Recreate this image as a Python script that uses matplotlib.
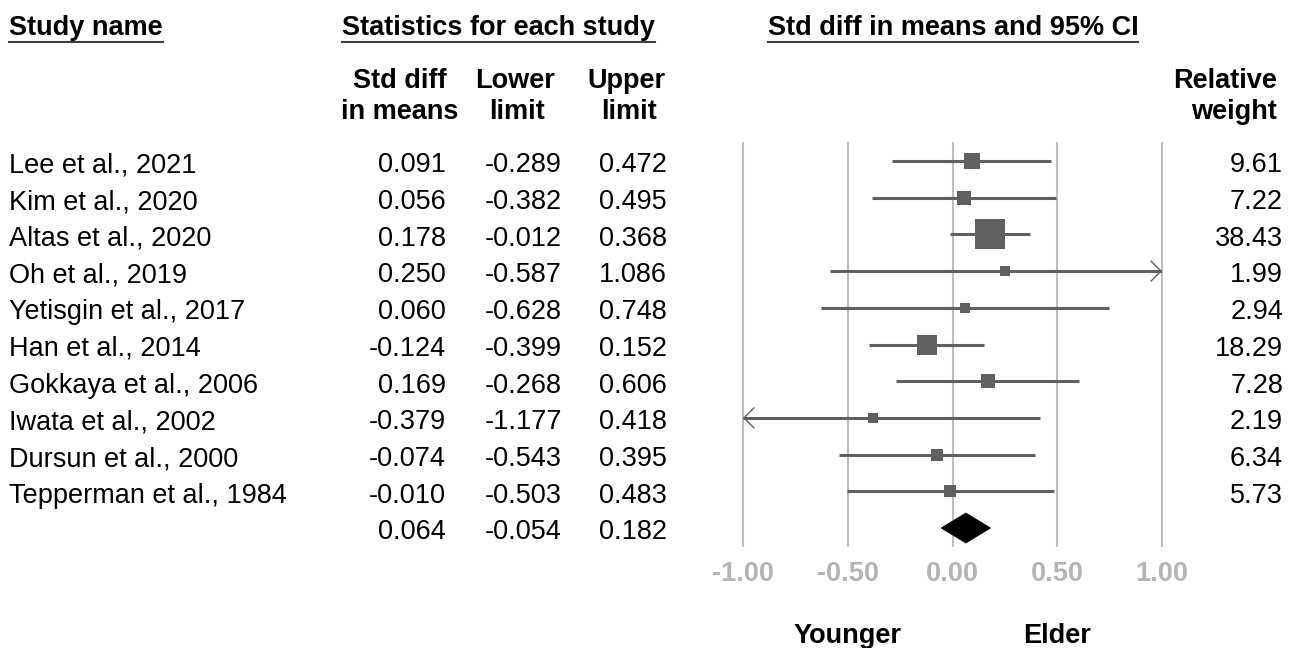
import numpy as np
import matplotlib
matplotlib.use("Agg")
import matplotlib.pyplot as plt
import matplotlib.transforms as mtransforms
from matplotlib.patches import Polygon
from matplotlib.lines import Line2D

plt.rcParams['font.family'] = ['Liberation Sans', 'DejaVu Sans']

studies = ["Lee et al., 2021", "Kim et al., 2020", "Altas et al., 2020", "Oh et al., 2019",
           "Yetisgin et al., 2017", "Han et al., 2014", "Gokkaya et al., 2006",
           "Iwata et al., 2002", "Dursun et al., 2000", "Tepperman et al., 1984"]
std_diff = [0.091, 0.056, 0.178, 0.250, 0.060, -0.124, 0.169, -0.379, -0.074, -0.010]
lower = [-0.289, -0.382, -0.012, -0.587, -0.628, -0.399, -0.268, -1.177, -0.543, -0.503]
upper = [0.472, 0.495, 0.368, 1.086, 0.748, 0.152, 0.606, 0.418, 0.395, 0.483]
weight = [9.61, 7.22, 38.43, 1.99, 2.94, 18.29, 7.28, 2.19, 6.34, 5.73]
pooled_est, pooled_lo, pooled_hi = 0.064, -0.054, 0.182
ticks = [-1.0, -0.5, 0.0, 0.5, 1.0]

W, H = 1296, 648
FS = 19.5
LINE = '#606060'

fig = plt.figure(figsize=(W / 100, H / 100), dpi=100)
fig.patch.set_facecolor('white')


def fx(px):
    return px / W


def fy(py):
    return 1 - py / H


# forest plot axes
ax = fig.add_axes([fx(743), fy(546), (1162 - 743) / W, (546 - 143) / H])
ax.set_xlim(-1, 1)
ax.set_ylim(10.49, -0.49)
for s in ax.spines.values():
    s.set_visible(False)
ax.set_yticks([])
ax.set_xticks(ticks)
ax.set_xticklabels([f'{t:.2f}' for t in ticks], fontsize=FS, fontweight='bold', color='#b4b4b4')
ax.tick_params(axis='x', length=0, pad=11)
for t in ticks:
    ax.axvline(t, color='#bdbdbd', lw=1.5, zorder=0, clip_on=False)

n = len(studies)
wmax = max(weight)
for i in range(n):
    lo = max(lower[i], -1)
    hi = min(upper[i], 1)
    ax.plot([lo, hi], [i, i], color=LINE, lw=2.2, solid_capstyle='butt', zorder=2)
    size_px = max(9.5, 30 * np.sqrt(weight[i] / wmax))
    ax.plot(std_diff[i], i, marker='s', ms=size_px * 0.72, color=LINE, mew=0, zorder=3)
    arrow = dict(arrowstyle='->,head_length=7.2,head_width=7.2', mutation_scale=1,
                 lw=1, color=LINE, shrinkA=0, shrinkB=0)
    if upper[i] > 1:
        ax.annotate('', xy=(1, i), xytext=(0.9, i), arrowprops=arrow, annotation_clip=False)
    if lower[i] < -1:
        ax.annotate('', xy=(-1, i), xytext=(-0.9, i), arrowprops=arrow, annotation_clip=False)

# pooled diamond
half = 0.41
ax.add_patch(Polygon([(pooled_lo, n), (pooled_est, n - half), (pooled_hi, n), (pooled_est, n + half)],
                     closed=True, facecolor='black', edgecolor='black', lw=0.5, zorder=4,
                     clip_on=False))

# table columns (text nudged down a little so cap height centres on the row line)
blend = mtransforms.blended_transform_factory(fig.transFigure, ax.transData)
dy = 0.12
for i in range(n):
    y = i + dy
    ax.text(fx(9), y, studies[i], transform=blend, ha='left', va='center', fontsize=FS)
    ax.text(fx(446), y, f'{std_diff[i]:.3f}', transform=blend, ha='right', va='center', fontsize=FS)
    ax.text(fx(562), y, f'{lower[i]:.3f}', transform=blend, ha='right', va='center', fontsize=FS)
    ax.text(fx(667), y, f'{upper[i]:.3f}', transform=blend, ha='right', va='center', fontsize=FS)
    ax.text(fx(1283), y, f'{weight[i]:.2f}', transform=blend, ha='right', va='center', fontsize=FS)
ax.text(fx(446), n + dy, f'{pooled_est:.3f}', transform=blend, ha='right', va='center', fontsize=FS)
ax.text(fx(562), n + dy, f'{pooled_lo:.3f}', transform=blend, ha='right', va='center', fontsize=FS)
ax.text(fx(667), n + dy, f'{pooled_hi:.3f}', transform=blend, ha='right', va='center', fontsize=FS)

# headers
bold = dict(fontsize=FS, fontweight='bold', va='center')
h1 = fig.text(fx(9), fy(28), "Study name", ha='left', **bold)
h2 = fig.text(fx(342), fy(28), "Statistics for each study", ha='left', **bold)
h3 = fig.text(fx(953), fy(28), "Std diff in means and 95% CI", ha='center', **bold)
fig.text(fx(400), fy(81), "Std diff", ha='center', **bold)
fig.text(fx(400), fy(112), "in means", ha='center', **bold)
fig.text(fx(515), fy(81), "Lower", ha='center', **bold)
fig.text(fx(517), fy(112), "limit", ha='center', **bold)
fig.text(fx(626), fy(81), "Upper", ha='center', **bold)
fig.text(fx(629), fy(112), "limit", ha='center', **bold)
fig.text(fx(1277), fy(81), "Relative", ha='right', **bold)
fig.text(fx(1277), fy(112), "weight", ha='right', **bold)

xfig = mtransforms.blended_transform_factory(ax.transData, fig.transFigure)
fig.text(-0.5, fy(636), "Younger", ha='center', transform=xfig, **bold)
fig.text(0.5, fy(636), "Elder", ha='center', transform=xfig, **bold)

# underlines under the group headers
fig.canvas.draw()
renderer = fig.canvas.get_renderer()
for h in (h1, h2, h3):
    bb = h.get_window_extent(renderer)
    fig.add_artist(Line2D([bb.x0 / W, bb.x1 / W], [fy(42), fy(42)], transform=fig.transFigure,
                          color='#404040', lw=1.5))

fig.savefig('out.png', dpi=100, facecolor='white')
